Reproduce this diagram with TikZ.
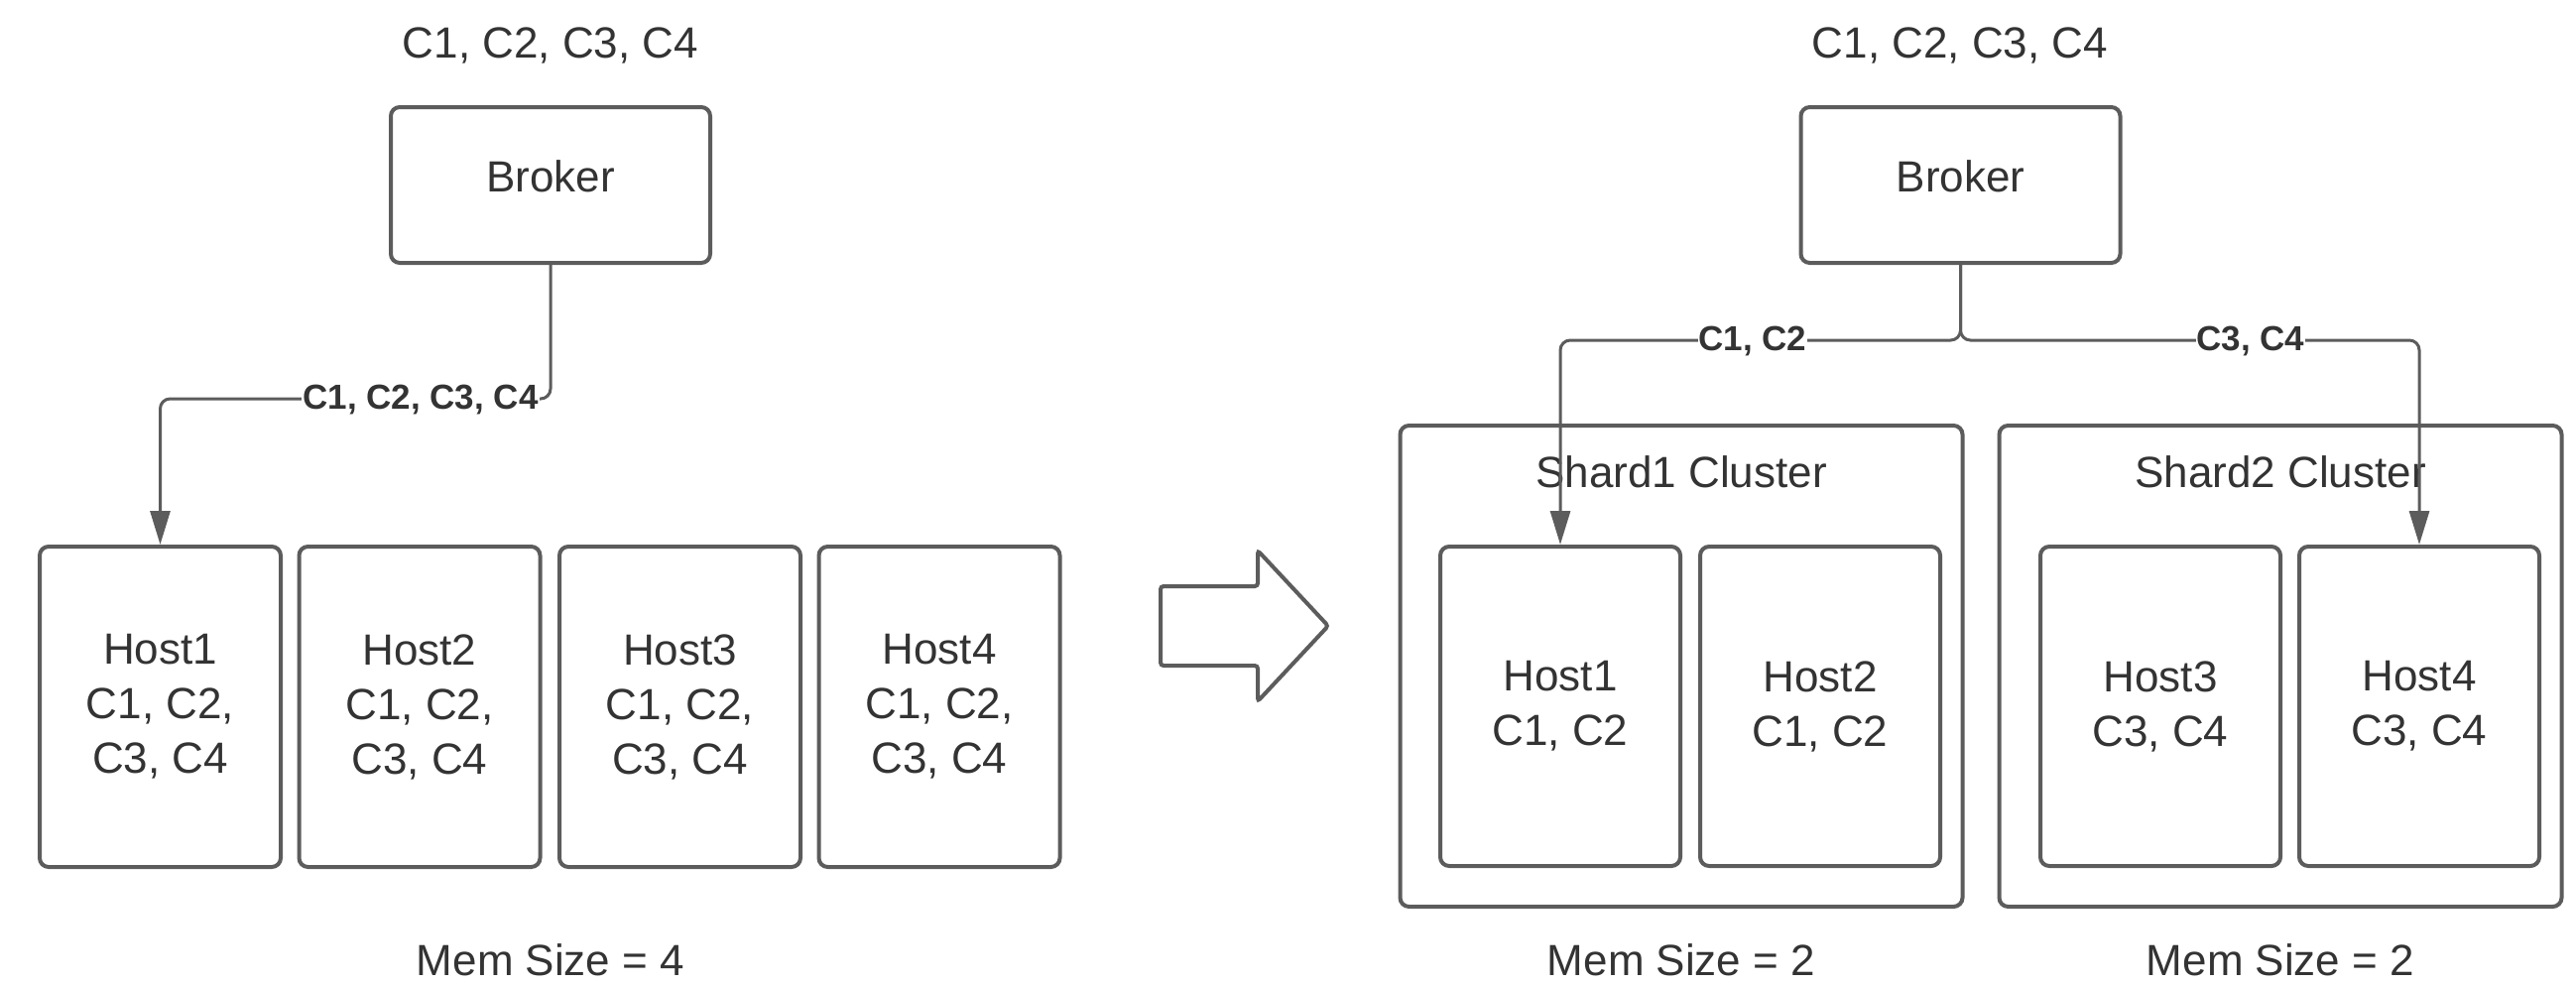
\documentclass[tikz,border=0pt]{standalone}
\usepackage{fontspec}
\setmainfont{Liberation Sans}
\usetikzlibrary{arrows.meta}
\definecolor{edge}{RGB}{92,92,92}
\definecolor{ink}{RGB}{51,51,51}
\begin{document}
\begin{tikzpicture}[x=1pt,y=-1pt,
  box/.style={draw=edge, line width=4pt, rounded corners=9pt, fill=white,
    text=ink, align=center, inner sep=0pt, font=\fontsize{44}{55}\selectfont},
  txt/.style={text=ink, font=\fontsize{44}{54}\selectfont, align=center, inner sep=0pt},
  lbl/.style={text=ink, font=\fontsize{35}{40}\selectfont\bfseries, fill=white, inner sep=1pt},
  conn/.style={draw=edge, line width=3pt, rounded corners=10pt},
  tip/.style={-{Triangle[length=34pt,width=20pt]}},
  broker/.style={box, minimum width=322pt, minimum height=157pt},
  hostL/.style={box, minimum width=243pt, minimum height=323pt},
  hostR/.style={box, minimum width=242pt, minimum height=322pt},
  shard/.style={box, minimum width=567pt, minimum height=485pt},
]
\useasboundingbox (0,0) rectangle (2597,993);

% ---------- before: one broker, four full hosts ----------
\node[txt] (topL) at (555,46) {C1, C2, C3, C4};
\node[broker] (bL) at (555,186.5) {};
\node[txt] (bLt) at (555,178) {Broker};

\node[hostL] (h1L) at (161.5,712.5) {Host1\\C1, C2,\\C3, C4};
\node[hostL] (h2L) at (423,712.5)   {Host2\\C1, C2,\\C3, C4};
\node[hostL] (h3L) at (685.5,712.5) {Host3\\C1, C2,\\C3, C4};
\node[hostL] (h4L) at (947,712.5)   {Host4\\C1, C2,\\C3, C4};

\coordinate (kL) at (0,402);
\draw[conn, tip] (bL.south) -- (bL.south |- kL) -- (h1L.north |- kL) -- (h1L.north);
\node[lbl] (lblL) at (424,403) {C1, C2, C3, C4};

\node[txt] (memL) at (555,968) {Mem Size = 4};

% ---------- transition arrow ----------
\draw[draw=edge, line width=4pt, rounded corners=3pt, fill=white]
  (1170,591) -- (1268,591) -- (1268,555) -- (1339,631) -- (1268,707)
  -- (1268,671) -- (1170,671) -- cycle;

% ---------- after: broker routing to two shard clusters ----------
\node[txt] (topR) at (1976,46) {C1, C2, C3, C4};
\node[broker] (bR) at (1976.5,186.5) {};
\node[txt] (bRt) at (1976.5,178) {Broker};

\node[shard] (s1) at (1695,671.5) {};
\node[shard] (s2) at (2299,671.5) {};
\node[txt] (s1t) at (1695,476) {Shard1 Cluster};
\node[txt] (s2t) at (2299,476) {Shard2 Cluster};

\node[hostR] (h1R) at (1573,712) {Host1\\C1, C2};
\node[hostR] (h2R) at (1835,712) {Host2\\C1, C2};
\node[hostR] (h3R) at (2178,712) {Host3\\C3, C4};
\node[hostR] (h4R) at (2439,712) {Host4\\C3, C4};

\coordinate (kR) at (0,343);
\draw[conn, tip] (bR.south) -- (bR.south |- kR) -- (h1R.north |- kR) -- (h1R.north);
\draw[conn, tip] (bR.south) -- (bR.south |- kR) -- (h4R.north |- kR) -- (h4R.north);
\node[lbl] (lblR1) at (1767,344) {C1, C2};
\node[lbl] (lblR2) at (2269,344) {C3, C4};

\node[txt] (memR1) at (1695,968) {Mem Size = 2};
\node[txt] (memR2) at (2299,968) {Mem Size = 2};
\end{tikzpicture}
\end{document}
